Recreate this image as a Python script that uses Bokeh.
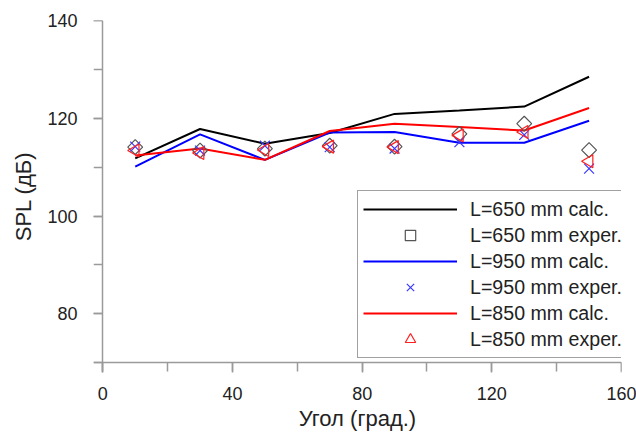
import math
from bokeh.plotting import figure
from bokeh.models import Range1d, SingleIntervalTicker, Legend, LegendItem, LinearAxis
from bokeh.embed import file_html
from bokeh.resources import INLINE

# ---- data ----
angles = [10, 30, 50, 70, 90, 110, 130, 150]
calc_650 = [111.8, 117.8, 114.8, 117.0, 120.9, 121.6, 122.4, 128.5]
exper_650 = [114.1, 113.4, 113.8, 114.4, 114.2, 116.8, 118.9, 113.5]
calc_950 = [110.1, 116.7, 111.5, 117.1, 117.2, 115.0, 115.0, 119.5]
exper_950 = [114.2, 113.4, 114.4, 114.1, 113.8, 115.1, 116.6, 109.7]
calc_850 = [112.4, 113.8, 111.5, 117.4, 118.9, 118.2, 117.5, 122.1]
exper_850 = [113.4, 112.9, 113.5, 114.2, 114.1, 116.5, 117.2, 111.2]

labels = ["L=650 mm calc.", "L=650 mm exper.",
          "L=950 mm calc.", "L=950 mm exper.",
          "L=850 mm calc.", "L=850 mm exper."]
x_title = "Угол (град.)"
y_title = "SPL (дБ)"

FONT = "Liberation Sans"
AXIS_COL = "#9a9a9a"
TEXT_COL = "#222222"

p = figure(width=636, height=435, output_backend="svg", toolbar_location=None,
           x_range=Range1d(-2.87, 160), y_range=Range1d(68.0, 140),
           min_border_left=93, min_border_right=15, min_border_top=20, min_border_bottom=63)
p.outline_line_color = None
p.xgrid.visible = False
p.ygrid.visible = False
p.background_fill_color = "white"
p.border_fill_color = "white"

xticker = SingleIntervalTicker(interval=40, num_minor_ticks=2)
yticker = SingleIntervalTicker(interval=20, num_minor_ticks=2)

# label-only axes at the frame edges
for ax in (p.xaxis[0], p.yaxis[0]):
    ax.axis_line_color = None
    ax.major_tick_line_color = None
    ax.minor_tick_line_color = None
    ax.major_tick_in = 0
    ax.major_tick_out = 0
    ax.minor_tick_in = 0
    ax.minor_tick_out = 0
    ax.major_label_text_font = FONT
    ax.major_label_text_font_size = "18px"
    ax.major_label_text_color = TEXT_COL
    ax.axis_label_text_font = FONT
    ax.axis_label_text_font_size = "22px"
    ax.axis_label_text_font_style = "normal"
    ax.axis_label_text_color = TEXT_COL
p.xaxis[0].ticker = xticker
p.yaxis[0].ticker = yticker
p.xaxis[0].axis_label = x_title
p.yaxis[0].axis_label = y_title
p.xaxis[0].major_label_standoff = 14
p.yaxis[0].major_label_standoff = 16
p.xaxis[0].axis_label_standoff = 3
p.yaxis[0].axis_label_standoff = 8

# line + tick axes crossing at (0, 70)
xline = LinearAxis(ticker=xticker, fixed_location=70)
yline = LinearAxis(ticker=yticker, fixed_location=0)
for ax in (xline, yline):
    ax.axis_line_color = AXIS_COL
    ax.axis_line_width = 1.5
    ax.major_tick_line_color = AXIS_COL
    ax.major_tick_line_width = 1.5
    ax.minor_tick_line_color = AXIS_COL
    ax.minor_tick_line_width = 1.5
    ax.major_tick_in = 0
    ax.minor_tick_in = 0
    ax.major_tick_out = 17
    ax.minor_tick_out = 9
    ax.major_label_text_font_size = "0px"
    ax.major_label_text_alpha = 0
p.add_layout(xline, "below")
p.add_layout(yline, "left")

r1 = p.line(angles, calc_650, line_color="black", line_width=2)
r3 = p.line(angles, calc_950, line_color="#0000ff", line_width=2)
r5 = p.line(angles, calc_850, line_color="#ff0000", line_width=2)

r2 = p.scatter(angles, exper_650, marker="square", angle=math.pi / 4, size=10.5,
               fill_color=None, line_color="#555555", line_width=1.2)
r4 = p.scatter(angles, exper_950, marker="x", size=14,
               line_color="#3838ff", line_width=1.2)
r6 = p.scatter(angles, exper_850, marker="triangle", angle=math.pi / 2, size=13,
               fill_color=None, line_color="#ff2020", line_width=1.2)

legend = Legend(items=[LegendItem(label=labels[0], renderers=[r1]),
                       LegendItem(label=labels[1], renderers=[r2]),
                       LegendItem(label=labels[2], renderers=[r3]),
                       LegendItem(label=labels[3], renderers=[r4]),
                       LegendItem(label=labels[4], renderers=[r5]),
                       LegendItem(label=labels[5], renderers=[r6])],
                location=(264, 14))
legend.padding = 5
legend.spacing = 0
legend.glyph_width = 94
legend.glyph_height = 26
legend.label_height = 26
legend.label_standoff = 13
legend.margin = 0
legend.label_text_font = FONT
legend.label_text_font_size = "19.6px"
legend.label_text_color = TEXT_COL
legend.border_line_color = "#444444"
legend.border_line_width = 1
legend.background_fill_color = "white"
legend.background_fill_alpha = 1.0
p.add_layout(legend)

open("out.html", "w").write(file_html(p, INLINE))
